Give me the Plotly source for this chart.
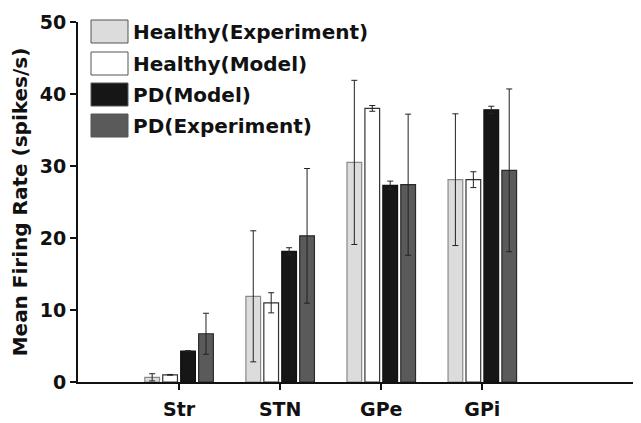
import plotly.graph_objects as go

categories = ["Str", "STN", "GPe", "GPi"]
series_names = ["Healthy(Experiment)", "Healthy(Model)", "PD(Model)", "PD(Experiment)"]
healthy_exp = [0.65, 11.9, 30.5, 28.1]
healthy_exp_err = [0.5, 9.1, 11.4, 9.15]
healthy_model = [1.0, 11.0, 38.0, 28.1]
healthy_model_err = [0.05, 1.4, 0.4, 1.1]
pd_model = [4.3, 18.15, 27.3, 37.8]
pd_model_err = [0.05, 0.5, 0.6, 0.5]
pd_exp = [6.7, 20.3, 27.4, 29.4]
pd_exp_err = [2.85, 9.35, 9.8, 11.3]
y_ticks = [0, 10, 20, 30, 40, 50]

values = [healthy_exp, healthy_model, pd_model, pd_exp]
errors = [healthy_exp_err, healthy_model_err, pd_model_err, pd_exp_err]
fills = ["#dcdcdc", "#ffffff", "#161616", "#5a5a5a"]
outlines = ["#8a8a8a", "#333333", "#111111", "#2a2a2a"]

font_family = "DejaVu Sans, sans-serif"

fig = go.Figure()
for name, v, e, f, o in zip(series_names, values, errors, fills, outlines):
    fig.add_trace(go.Bar(
        x=categories, y=v, name=name,
        marker=dict(color=f, line=dict(color=o, width=1.2)),
        error_y=dict(type="data", array=e, visible=True, color="#222222",
                     thickness=1, width=3),
        showlegend=False,
    ))

# custom legend (big boxes like the reference), positioned relative to the plot area
W, H = 562.0, 360.0
L, T = 78.0, 22.0
def px_x(p):
    return (p - L) / W
def px_y(p):
    return (T + H - p) / H

box_tops = [20, 52, 83, 114]
for name, top, f in zip(series_names, box_tops, fills):
    fig.add_shape(type="rect", xref="paper", yref="paper",
                  x0=px_x(91), x1=px_x(128), y0=px_y(top + 23), y1=px_y(top),
                  fillcolor=f, line=dict(color="#555555", width=1))
    fig.add_annotation(xref="paper", yref="paper", x=px_x(131), y=px_y(top + 12),
                       text="<b>%s</b>" % name, showarrow=False,
                       xanchor="left", yanchor="middle",
                       font=dict(size=20, color="#111111", family=font_family))

fig.update_layout(
    width=633, height=415,
    margin=dict(l=70, r=1, t=14, b=41),
    plot_bgcolor="white", paper_bgcolor="white",
    barmode="group", bargap=0.29, bargroupgap=0.18,
    font=dict(family=font_family, size=18, color="#111111"),
    xaxis=dict(
        range=[-1, 4.56], showline=True, linecolor="#111111", linewidth=2,
        ticks="outside", ticklen=6, tickwidth=2, tickcolor="#111111",
        tickfont=dict(size=19, family=font_family), ticklabelstandoff=3,
        tickvals=categories, ticktext=["<b>%s</b>" % c for c in categories],
        showgrid=False, zeroline=False,
    ),
    yaxis=dict(
        range=[0, 50], showline=True, linecolor="#111111", linewidth=2,
        ticks="outside", ticklen=6, tickwidth=2, tickcolor="#111111",
        tickvals=y_ticks, ticktext=["<b>%d</b>" % t for t in y_ticks],
        tickfont=dict(size=19, family=font_family),
        showgrid=False, zeroline=False,
        title=dict(text="<b>Mean Firing Rate (spikes/s)</b>", standoff=8,
                   font=dict(size=20, family=font_family)),
    ),
)

fig.write_html("out.html")
